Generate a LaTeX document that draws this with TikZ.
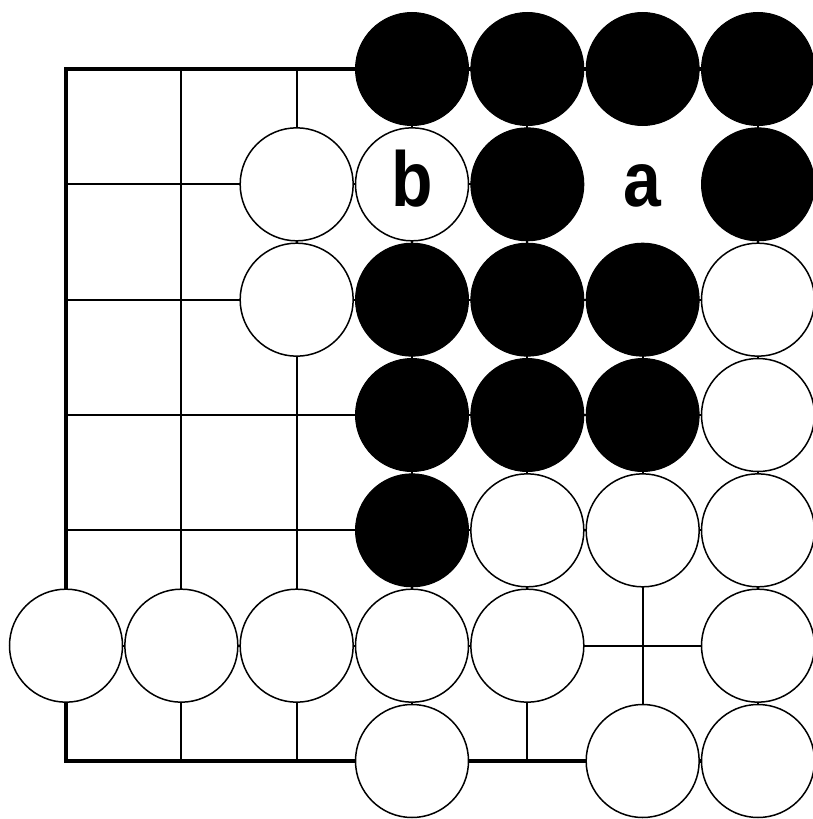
\documentclass[tikz,border=0pt]{standalone}
\usepackage{fontspec}
\setmainfont{Liberation Sans}
\usetikzlibrary{calc}
\begin{document}
\begin{tikzpicture}[x=1pt,y=-1pt,
  wstone/.style={circle,draw=black,line width=1.5pt,fill=white,minimum size=113pt,inner sep=0pt},
  bstone/.style={circle,draw=black,line width=1pt,fill=black,minimum size=113pt,inner sep=0pt},
  blank/.style={circle,fill=white,minimum size=118pt,inner sep=0pt},
  lbl/.style={font=\bfseries\fontsize{78}{78}\selectfont,inner sep=0pt,anchor=base,xscale=0.87},
  thin/.style={line width=1.7pt},
  edge/.style={line width=3.5pt,line cap=rect,line join=miter}]
\useasboundingbox (0,0) rectangle (813,819);
\def\sp{115.333}
% grid points
\foreach \i in {0,...,6}{\foreach \j in {0,...,6}{
  \coordinate (p\i\j) at ({66+\sp*\i},{69+\sp*\j});}}
% inner lines
\foreach \i in {1,...,6}{\draw[thin] (p\i0) -- (p\i6);}
\foreach \j in {1,...,5}{\draw[thin] (p0\j) -- (p6\j);}
% board edges
\draw[edge] (p60) -- (p00) -- (p06) -- (p66);
% empty labelled point
\node[blank] (ea) at (p51) {};
% black stones
\foreach \p in {30,40,50,60,41,61,32,42,52,33,43,53,34}{\node[bstone] (b\p) at (p\p) {};}
% white stones
\foreach \p in {21,22,62,63,44,54,64,05,15,25,35,45,65,36,56,66}{\node[wstone] (w\p) at (p\p) {};}
\node[wstone] (w31) at (p31) {};
% labels
\node[lbl] (la) at ($(p51)+(0,22)$) {a};
\node[lbl] (lb) at ($(p31)+(0,22)$) {b};
\end{tikzpicture}
\end{document}
